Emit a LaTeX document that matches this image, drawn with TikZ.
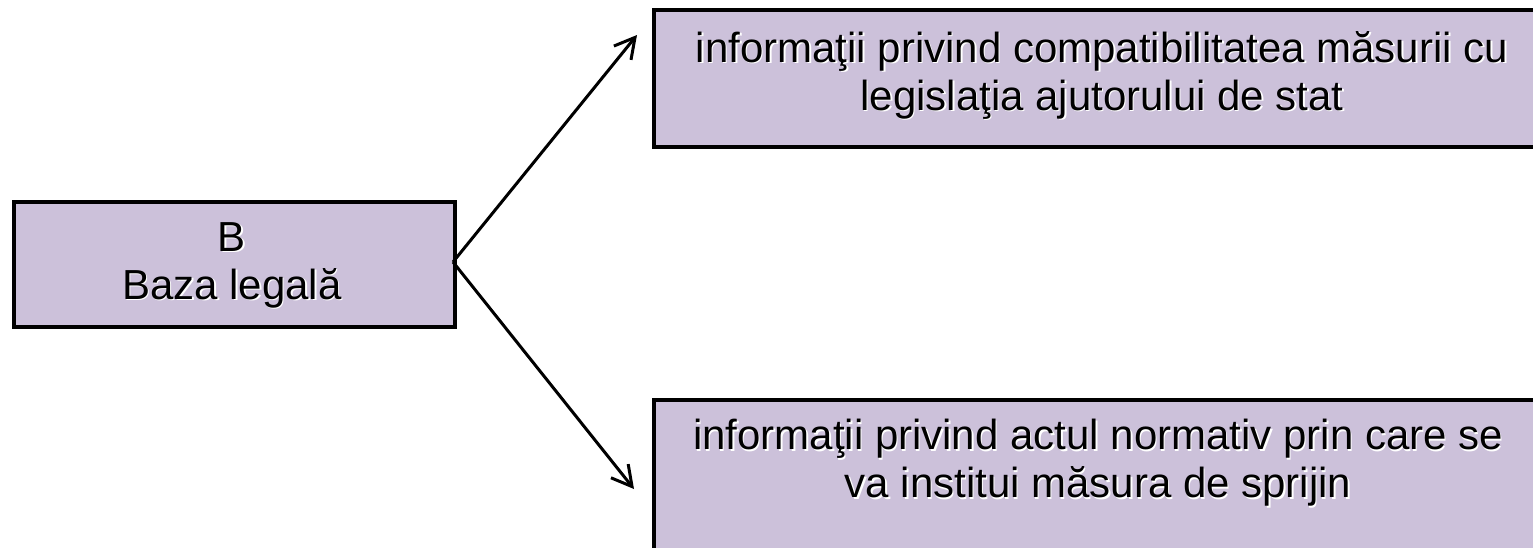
\documentclass[tikz,border=0pt]{standalone}
\usepackage{fontspec}
\setmainfont{Liberation Sans}
\usetikzlibrary{arrows.meta,calc}
\definecolor{boxfill}{RGB}{204,193,218}
\begin{document}
\begin{tikzpicture}[x=0.5pt,y=-0.5pt,
  box/.style={draw=black, line width=2pt, fill=boxfill, inner sep=0pt, anchor=north west},
  txt/.style={font=\fontsize{21}{24}\selectfont, align=center, text=black, inner sep=0pt},
  shtxt/.style={txt, text=white},
  arr/.style={line width=1.5pt, -{Straight Barb[length=10pt,width=11pt]}}]
\clip (0,0) rectangle (1533,547);
\fill[white] (0,0) rectangle (1533,547);
% boxes
\node[box, minimum width=220.5pt, minimum height=62.5pt] (L) at (12,200) {};
\node[box, minimum width=450.5pt, minimum height=68.5pt] (T) at (652,8) {};
\node[box, minimum width=450.5pt, minimum height=81pt] (D) at (652,398) {};
% texts (with light shadow)
\node[shtxt] at (233.5,266.5) {B\\Baza legală};
\node[txt] (Lt) at (232,265) {B\\Baza legală};
\node[shtxt] at (1103.5,76.5) {informaţii privind compatibilitatea măsurii cu\\legislaţia ajutorului de stat};
\node[txt] (Tt) at (1102,75) {informaţii privind compatibilitatea măsurii cu\\legislaţia ajutorului de stat};
\node[shtxt] at (1099.5,464.5) {informaţii privind actul normativ prin care se\\va institui măsura de sprijin};
\node[txt] (Dt) at (1098,463) {informaţii privind actul normativ prin care se\\va institui măsura de sprijin};
% arrows
\coordinate (s) at (453,262);
\coordinate (tT) at (637,35);
\coordinate (tD) at (634,489);
\draw[arr] (s) -- (tT);
\draw[arr] (s) -- (tD);
\end{tikzpicture}
\end{document}
